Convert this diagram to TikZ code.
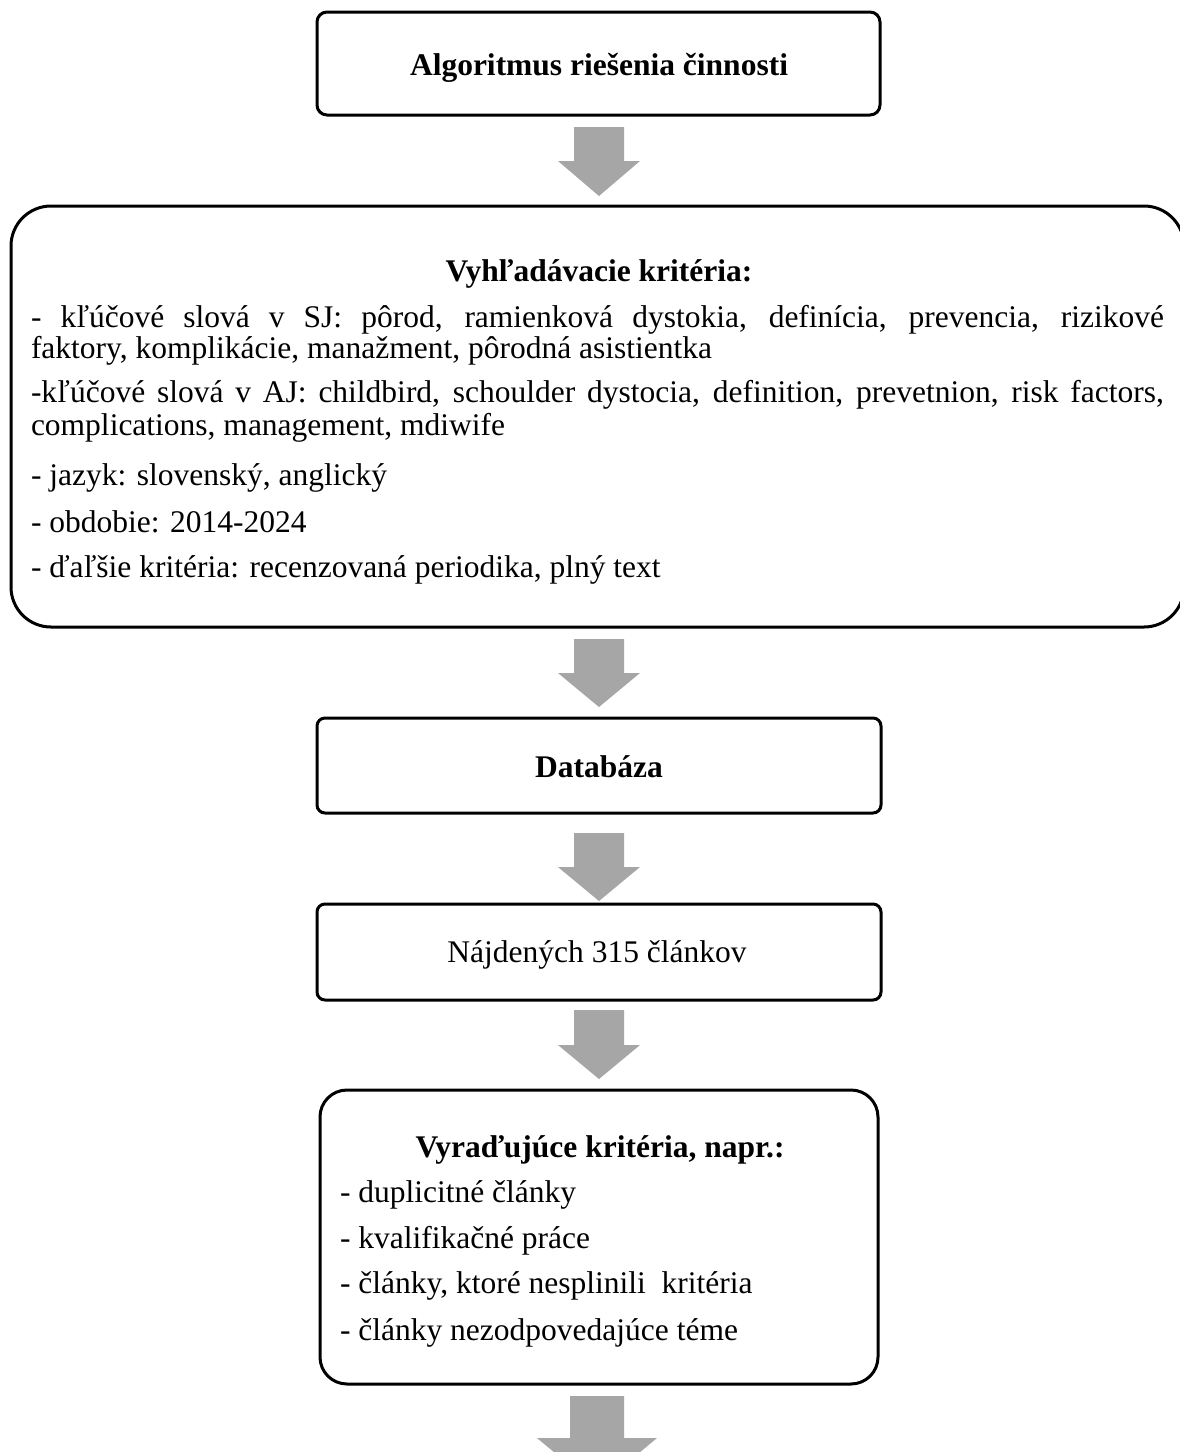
\documentclass[tikz,border=0pt]{standalone}
\usepackage{fontspec}
\setmainfont{Liberation Serif}
\usetikzlibrary{calc}
\definecolor{arrowgray}{HTML}{A6A6A6}
\tikzset{
  boxframe/.style={draw=black, line width=3pt, rectangle, inner sep=0pt, outer sep=0pt},
  txt/.style={inner sep=0pt, outer sep=0pt, font=\fontsize{31.5pt}{34pt}\selectfont},
  txtb/.style={inner sep=0pt, outer sep=0pt, font=\fontsize{31.5pt}{34pt}\selectfont\bfseries},
  blk/.style={fill=arrowgray, draw=none},
}
% #1 start point, #2 tip, #3 shaft half width, #4 head half width, #5 head length
\newcommand\blkarrow[5]{%
  \fill[blk] ($(#1)+(-#3,0)$) -- ($(#1)+(#3,0)$) -- ($(#2)+(#3,-#5)$) -- ($(#2)+(#4,-#5)$)
    -- (#2) -- ($(#2)+(-#4,-#5)$) -- ($(#2)+(-#3,-#5)$) -- cycle;}
\begin{document}
\begin{tikzpicture}[x=1pt,y=-1pt]
\clip (0,0) rectangle (1180,1452);
\fill[white] (0,0) rectangle (1180,1452);

% boxes
\node[boxframe, rounded corners=10pt, minimum width=563pt, minimum height=103pt] (b1) at (598.5,63.5) {};
\node[boxframe, rounded corners=40pt, minimum width=1173pt, minimum height=421pt] (b2) at (597.5,416.5) {};
\node[boxframe, rounded corners=8pt, minimum width=564pt, minimum height=95pt] (b3) at (599,765.5) {};
\node[boxframe, rounded corners=8pt, minimum width=564pt, minimum height=96pt] (b4) at (599,952) {};
\node[boxframe, rounded corners=27pt, minimum width=558pt, minimum height=294pt] (b5) at (599,1237) {};

% texts
\node[txtb, anchor=base] (t1) at (599,75) {Algoritmus riešenia činnosti};

\node[txtb, anchor=base] (h2) at (599,281) {Vyhľadávacie kritéria:};
\node[txt, anchor=base west] (l1) at (31,327) {\makebox[1133pt][s]{- kľúčové slová v SJ: pôrod, ramienková dystokia, definícia, prevencia, rizikové}};
\node[txt, anchor=base west] (l2) at (31,358) {faktory, komplikácie, manažment, pôrodná asistientka};
\node[txt, anchor=base west] (l3) at (31,402) {\makebox[1133pt][s]{-kľúčové slová v AJ: childbird, schoulder dystocia, definition, prevetnion, risk factors,}};
\node[txt, anchor=base west] (l4) at (31,435) {complications, management, mdiwife};
\node[txt, anchor=base west] (l5) at (31,485) {- jazyk: slovenský, anglický};
\node[txt, anchor=base west] (l6) at (31,532) {- obdobie: 2014-2024};
\node[txt, anchor=base west] (l7) at (31,577) {- ďaľšie kritéria: recenzovaná periodika, plný text};

\node[txtb, anchor=base] (t3) at (599,777) {Databáza};
\node[txt, anchor=base] (t4) at (597,962) {Nájdených 315 článkov};

\node[txtb, anchor=base] (h5) at (600,1157) {Vyraďujúce kritéria, napr.:};
\node[txt, anchor=base west] (m1) at (340,1202) {- duplicitné články};
\node[txt, anchor=base west] (m2) at (340,1248) {- kvalifikačné práce};
\node[txt, anchor=base west] (m3) at (340,1293) {- články, ktoré nesplinili\ \ kritéria};
\node[txt, anchor=base west] (m4) at (340,1340) {- články nezodpovedajúce téme};

% arrow end points
\coordinate (a1s) at ($(b1.south)+(0.5,12)$);
\coordinate (a1e) at ($(a1s |- b2.north)+(0,-10)$);
\coordinate (a2s) at ($(b2.south -| b3.north)+(0,12)$);
\coordinate (a2e) at ($(b3.north)+(0,-11)$);
\coordinate (a3s) at ($(b3.south)+(0,20)$);
\coordinate (a3e) at ($(b4.north)+(0,-3)$);
\coordinate (a4s) at ($(b4.south)+(0,10)$);
\coordinate (a4e) at ($(b5.north)+(0,-11)$);
\coordinate (a5s) at ($(b5.south)+(-2,12)$);
\coordinate (a5e) at ($(a5s)+(0,92)$);

% block arrows
\blkarrow{a1s}{a1e}{25}{41}{35}
\blkarrow{a2s}{a2e}{25}{41}{34}
\blkarrow{a3s}{a3e}{25}{41}{34}
\blkarrow{a4s}{a4e}{25}{41}{34}
\blkarrow{a5s}{a5e}{27}{60}{50}
\end{tikzpicture}
\end{document}
